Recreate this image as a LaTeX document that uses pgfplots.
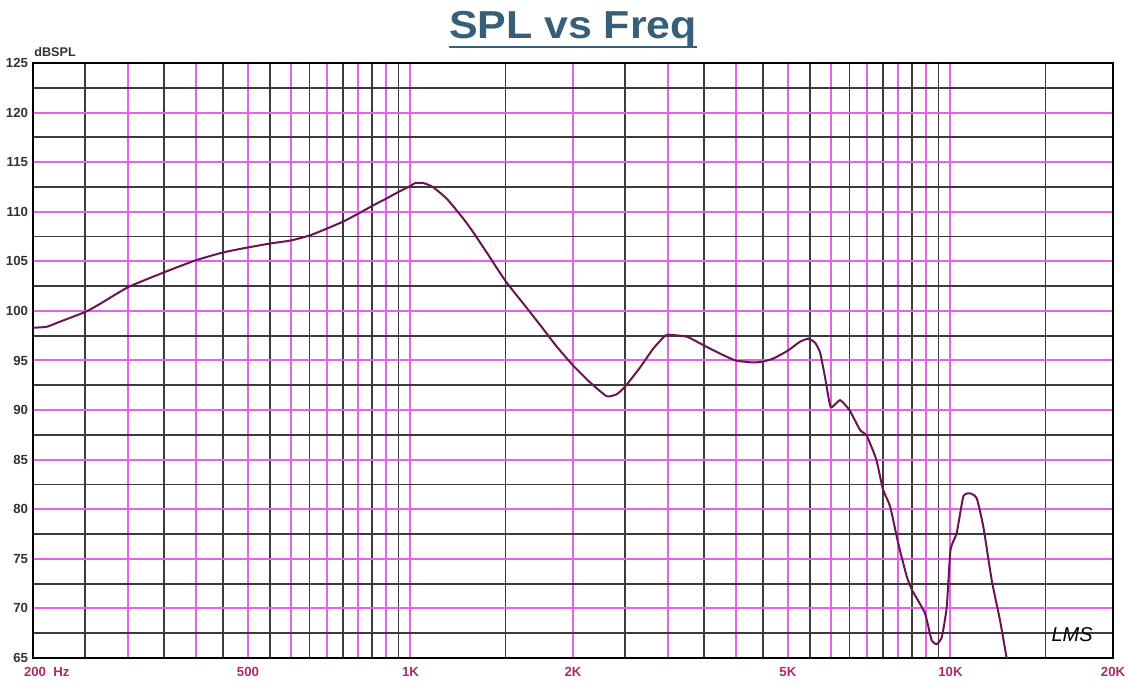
\documentclass[border=0pt]{standalone}
\usepackage{fontspec}
\setmainfont{Liberation Sans}
\usepackage{pgfplots}
\pgfplotsset{compat=1.18}
\definecolor{gridmag}{RGB}{228,100,228}
\definecolor{gridblk}{RGB}{60,60,60}
\definecolor{curvec}{RGB}{105,20,85}
\definecolor{xlab}{RGB}{175,40,105}
\definecolor{ylab}{RGB}{50,50,50}
\definecolor{titlec}{RGB}{55,95,120}
\begin{document}
\begin{tikzpicture}
\begin{axis}[
  name=ax,
  scale only axis, width=540pt, height=297.5pt,
  xmode=log, xmin=200, xmax=20000, ymin=65, ymax=125,
  xtick={200,300,400,500,600,700,800,900,1000,2000,3000,4000,5000,6000,7000,8000,9000,10000,20000},
  xticklabels={\rlap{\hspace{-4.5pt}200\ \ Hz},,,500,,,,,1K,2K,,,5K,,,,,10K,20K},
  minor xtick={250,350,450,550,650,750,850,950,1500,2500,3500,4500,5500,6500,7500,8500,9500,15000},
  ytick={65,70,...,125},
  yticklabels={65,70,75,80,85,90,95,100,105,110,115,120,125},
  minor ytick={67.5,72.5,...,122.5},
  grid=both,
  major grid style={gridmag, line width=1pt},
  minor grid style={gridblk, line width=0.9pt},
  major tick length=0pt, minor tick length=0pt,
  axis line style={black, line width=1pt},
  tick label style={font=\fontsize{6.6}{7.5}\selectfont\bfseries},
  xticklabel style={text=xlab, anchor=north, inner sep=0pt, yshift=-4.5pt},
  yticklabel style={text=ylab, anchor=east, inner sep=0pt, xshift=-2.3pt},
]
\addplot[curvec, line width=1pt, smooth, tension=0.3] coordinates {
(200,98.3) (212,98.4) (224,98.9) (250,99.9) (266,100.7) (300,102.4) (350,103.9)
(400,105.1) (450,105.9) (500,106.4) (550,106.8) (600,107.1) (650,107.6) (700,108.3)
(750,109.0) (800,109.8) (850,110.6) (900,111.3) (950,112.0) (1000,112.6) (1020,112.9)
(1056,112.9) (1100,112.5) (1168,111.3) (1253,109.3) (1308,107.9) (1384,105.9)
(1500,103.0) (1642,100.3) (1760,98.2) (1866,96.4) (2000,94.5) (2150,92.8) (2308,91.4)
(2410,91.6) (2500,92.4) (2662,94.3) (2816,96.2) (2960,97.5) (3000,97.6) (3248,97.4)
(3500,96.5) (3743,95.7) (4000,95.0) (4316,94.8) (4500,94.9) (4700,95.2) (5000,96.0)
(5266,96.9) (5457,97.2) (5612,96.8) (5735,95.8) (5858,93.3) (6000,90.3) (6244,91.0)
(6500,90.0) (6800,88.0) (7000,87.4) (7290,85.0) (7500,82.0) (7729,80.3) (8000,76.6)
(8300,73.2) (8500,71.8) (8970,69.5) (9225,66.8) (9432,66.4) (9636,67.1) (9840,70.1)
(10000,75.9) (10268,77.6) (10564,81.3) (10870,81.6) (11186,81.1) (11506,78.2)
(11926,72.8) (12352,68.8) (12710,65.0) (12900,64.0)
};
\node[font=\fontsize{10}{12}\selectfont\itshape] at (axis cs:16800,67.4) {LMS};
\end{axis}
\node[name=title, anchor=base, inner sep=0pt, text=titlec, font=\fontsize{19.5}{22}\selectfont\bfseries] at ([yshift=12.5pt]ax.north) {\scalebox{1.1}[1]{SPL vs Freq}};
\draw[titlec, line width=1.3pt] ([yshift=-4.5pt]title.base west) -- ([yshift=-4.5pt]title.base east);
\node[anchor=south west, inner sep=0pt, text=ylab, font=\fontsize{6.3}{7}\selectfont\bfseries] at ([xshift=0.5pt,yshift=3pt]ax.north west) {dBSPL};
\pgfresetboundingbox
\path[use as bounding box] (-16.5pt,-12.5pt) rectangle (547.5pt,329pt);
\end{tikzpicture}
\end{document}
